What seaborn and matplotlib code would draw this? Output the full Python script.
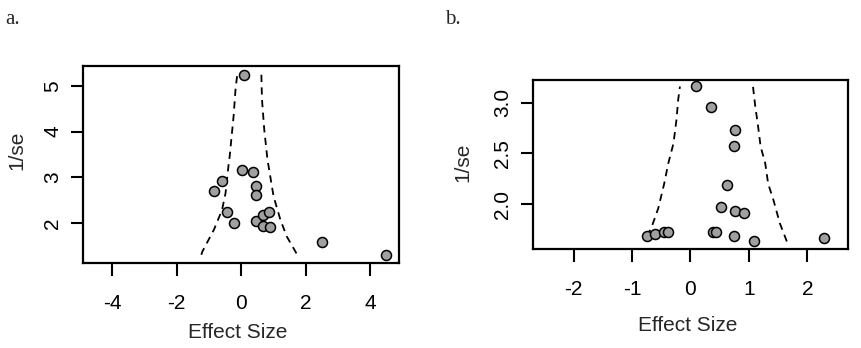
import numpy as np
import pandas as pd
import matplotlib
matplotlib.use("Agg")
import matplotlib.pyplot as plt
import seaborn as sns

# panel a: study effects and precision (1/se)
a_effect = [0.08, 0.04, 0.37, -0.60, -0.84, 0.45, 0.45, -0.43, -0.22, 0.45, 0.67, 0.88, 0.67, 0.89, 2.50, 4.50]
a_prec = [5.25, 3.15, 3.12, 2.91, 2.70, 2.80, 2.61, 2.23, 2.00, 2.03, 2.18, 2.24, 1.93, 1.90, 1.58, 1.30]

# funnel boundaries for panel a
a_left_x = [-1.23, -1.20, -0.84, -0.59, -0.48, -0.38, -0.35, -0.28, -0.23, -0.17, -0.12]
a_left_y = [1.30, 1.37, 1.85, 2.28, 2.65, 3.31, 3.47, 3.98, 4.34, 4.93, 5.23]
a_right_x = [1.72, 1.42, 1.22, 1.01, 0.82, 0.72, 0.65, 0.63]
a_right_y = [1.33, 1.70, 2.07, 2.58, 3.39, 4.05, 4.71, 5.28]

# panel b
b_effect = [0.09, 0.36, 0.76, 0.74, 0.62, 0.53, 0.76, 0.92, -0.74, -0.60, -0.45, -0.39, 0.38, 0.43, 0.74, 1.09, 2.29]
b_prec = [3.16, 2.96, 2.73, 2.57, 2.19, 1.97, 1.93, 1.91, 1.68, 1.70, 1.72, 1.72, 1.72, 1.72, 1.68, 1.63, 1.66]

b_left_x = [-0.74, -0.66, -0.55, -0.45, -0.38, -0.29, -0.24, -0.21, -0.18]
b_left_y = [1.68, 1.78, 1.96, 2.20, 2.40, 2.60, 2.83, 3.03, 3.16]
b_right_x = [1.65, 1.53, 1.42, 1.33, 1.28, 1.20, 1.15, 1.11, 1.07]
b_right_y = [1.63, 1.81, 2.04, 2.20, 2.40, 2.57, 2.80, 2.96, 3.16]

a_xticks = [-4, -2, 0, 2, 4]
a_yticks = [2, 3, 4, 5]
b_xticks = [-2, -1, 0, 1, 2]
b_yticks = [2.0, 2.5, 3.0]
b_yticklabels = ["2.0", "2.5", "3.0"]

sns.set_style("ticks")
plt.rcParams['font.family'] = ['Liberation Sans', 'DejaVu Sans']

fig = plt.figure(figsize=(8.62, 3.48), dpi=100)
ax_a = fig.add_axes([0.0963, 0.2443, 0.3666, 0.566])
ax_b = fig.add_axes([0.618, 0.2845, 0.366, 0.4856])


def funnel(ax, effect, prec, lx, ly, rx, ry):
    for fx, fy in ((lx, ly), (rx, ry)):
        sns.lineplot(x=fx, y=fy, sort=False, estimator=None, color='black',
                     linewidth=1.3, linestyle=(0, (4, 3)), ax=ax)
    sns.scatterplot(x=effect, y=prec, color='#a0a0a0', edgecolor='black',
                    linewidth=1.1, s=52, ax=ax, zorder=3)
    for sp in ax.spines.values():
        sp.set_visible(True)
        sp.set_color('black')
        sp.set_linewidth(1.6)
    ax.tick_params(direction='out', length=9, width=1.5, labelsize=15, colors='black')
    ax.tick_params(axis='x', pad=13)
    ax.tick_params(axis='y', pad=6, labelrotation=90)
    for lab in ax.get_yticklabels():
        lab.set_va('center')


funnel(ax_a, a_effect, a_prec, a_left_x, a_left_y, a_right_x, a_right_y)
ax_a.set_xlim(-4.9, 4.9)
ax_a.set_ylim(1.12, 5.44)
ax_a.set_xticks(a_xticks)
ax_a.set_xticklabels([str(t) for t in a_xticks])
ax_a.set_yticks(a_yticks)
ax_a.set_yticklabels([str(t) for t in a_yticks], rotation=90, va='center')
ax_a.set_xlabel('Effect Size', fontsize=15, va='center')
ax_a.set_ylabel('1/se', fontsize=15, va='center')
ax_a.xaxis.set_label_coords(0.49, -0.355)
ax_a.yaxis.set_label_coords(-0.209, 0.574)

funnel(ax_b, b_effect, b_prec, b_left_x, b_left_y, b_right_x, b_right_y)
ax_b.set_xlim(-2.7, 2.7)
ax_b.set_ylim(1.556, 3.224)
ax_b.set_xticks(b_xticks)
ax_b.set_xticklabels([str(t) for t in b_xticks])
ax_b.set_yticks(b_yticks)
ax_b.set_yticklabels(b_yticklabels, rotation=90, va='center')
ax_b.set_xlabel('Effect Size', fontsize=15, va='center')
ax_b.set_ylabel('1/se', fontsize=15, va='center')
ax_b.xaxis.set_label_coords(0.49, -0.45)
ax_b.yaxis.set_label_coords(-0.22, 0.512)

fig.text(0.006, 0.945, 'a.', family=['Liberation Serif', 'DejaVu Serif'], fontsize=15, va='center')
fig.text(0.516, 0.945, 'b.', family=['Liberation Serif', 'DejaVu Serif'], fontsize=15, va='center')

fig.savefig('out.png', dpi=100)
plt.close(fig)
